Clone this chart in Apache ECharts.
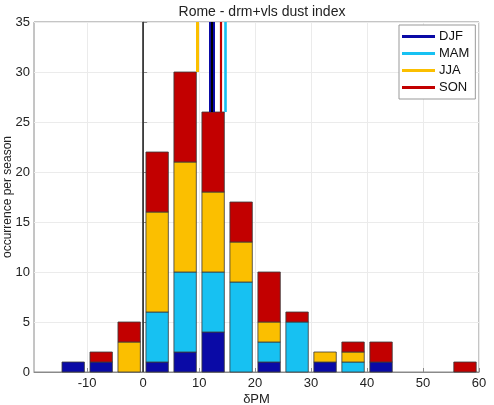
<!DOCTYPE html>
<html>
<head>
<meta charset="utf-8">
<script src="https://cdn.jsdelivr.net/npm/echarts@6/dist/echarts.min.js"></script>
<style>
  html, body { margin: 0; padding: 0; background: #fff; }
  #chart { width: 494px; height: 405px; }
</style>
</head>
<body>
<div id="chart"></div>
<script>
// bin centres (dPM), bin width 5
const binCenters = [-12.5, -7.5, -2.5, 2.5, 7.5, 12.5, 17.5, 22.5, 27.5, 32.5, 37.5, 42.5, 47.5, 52.5, 57.5]
const djf = [1, 1, 0, 1, 2, 4, 0, 1, 0, 1, 0, 1, 0, 0, 0]
const mam = [0, 0, 0, 5, 8, 6, 9, 2, 5, 0, 1, 0, 0, 0, 0]
const jja = [0, 0, 3, 10, 11, 8, 4, 2, 0, 1, 1, 0, 0, 0, 0]
const son = [0, 1, 2, 6, 9, 8, 4, 5, 1, 0, 1, 2, 0, 0, 1]
const seasons = ['DJF', 'MAM', 'JJA', 'SON']
const seasonColors = ['#0a0aa6', '#17c1f2', '#fbbf00', '#c20000']
// seasonal mean dPM, and all-year mean
const seasonMeans = [12.3, 14.6, 9.7, 13.85]
const allMean = 12.2
const xTicks = [-10, 0, 10, 20, 30, 40, 50, 60]
const binWidth = 5

const counts = [djf, mam, jja, son]
const totals = binCenters.map((c, i) => djf[i] + mam[i] + jja[i] + son[i])
const topAt = m => totals[binCenters.findIndex(c => m >= c - binWidth / 2 && m < c + binWidth / 2)]

const chart = echarts.init(document.getElementById('chart'))
const font = 'Liberation Sans, Arial, sans-serif'

function renderBar (params, api) {
  const x = api.value(0)
  const p0 = api.coord([x, api.value(1)])
  const p1 = api.coord([x, api.value(2)])
  const w = api.size([binWidth * 0.8, 0])[0]
  return {
    type: 'rect',
    shape: { x: p0[0] - w / 2, y: p1[1], width: w, height: p0[1] - p1[1] },
    style: api.style({ stroke: '#3a3a3a', lineWidth: 0.8 })
  }
}

const base = binCenters.map(() => 0)
const series = seasons.map((name, k) => {
  const data = []
  binCenters.forEach((c, i) => {
    const n = counts[k][i]
    if (n > 0) data.push([c, base[i], base[i] + n])
    base[i] += n
  })
  return {
    name: name,
    type: 'custom',
    renderItem: renderBar,
    encode: { x: 0, y: [1, 2] },
    itemStyle: { color: seasonColors[k] },
    data: data
  }
})

const meanLine = (m, color, width) => [
  { coord: [m, topAt(m)], lineStyle: { color: color, width: width, type: 'solid' } },
  { coord: [m, 35] }
]

// zero line and the mean lines
series.push({
  name: 'ref',
  type: 'line',
  data: [],
  markLine: {
    silent: true,
    symbol: 'none',
    label: { show: false },
    data: [
      [
        { coord: [0, 0], lineStyle: { color: '#222', width: 1.5, type: 'solid' } },
        { coord: [0, 35] }
      ],
      meanLine(seasonMeans[0], seasonColors[0], 6),
      meanLine(allMean, '#000', 2),
      meanLine(seasonMeans[1], seasonColors[1], 2.6),
      meanLine(seasonMeans[2], seasonColors[2], 3),
      meanLine(seasonMeans[3], seasonColors[3], 2.2)
    ]
  }
})

const option = {
  animation: false,
  backgroundColor: '#fff',
  title: {
    text: 'Rome - drm+vls dust index',
    left: 257,
    textAlign: 'center',
    top: 0,
    textStyle: { fontSize: 14, fontWeight: 'normal', color: '#222', fontFamily: font }
  },
  legend: {
    data: seasons,
    orient: 'vertical',
    left: 399,
    top: 25,
    padding: [5, 6, 5, 3],
    itemWidth: 33,
    itemHeight: 3,
    itemGap: 4,
    icon: 'rect',
    backgroundColor: '#fff',
    borderColor: '#999',
    borderWidth: 1,
    borderRadius: 0,
    itemStyle: { borderWidth: 0 },
    textStyle: { fontSize: 13, color: '#111', fontFamily: font, padding: [0, 0, 0, -1] }
  },
  grid: {
    left: 34,
    right: 15,
    top: 22,
    bottom: 33,
    outerBoundsMode: 'none',
    containLabel: false,
    show: true,
    borderColor: '#8a8a8a',
    borderWidth: 1
  },
  xAxis: {
    type: 'value',
    min: -19.5,
    max: 60,
    name: 'δPM',
    nameLocation: 'middle',
    nameGap: 21,
    nameMoveOverlap: false,
    nameTextStyle: { fontSize: 13, color: '#222', fontFamily: font },
    axisLine: { show: true, onZero: false, lineStyle: { color: '#8a8a8a' } },
    axisTick: { show: true, inside: true, length: 4, customValues: xTicks, lineStyle: { color: '#8a8a8a' } },
    axisLabel: { customValues: xTicks, fontSize: 13, color: '#222', fontFamily: font, margin: 5 },
    splitLine: { show: true, lineStyle: { color: '#ebebeb' } }
  },
  yAxis: {
    type: 'value',
    min: 0,
    max: 35,
    interval: 5,
    name: 'occurrence per season',
    nameLocation: 'middle',
    nameGap: 20,
    nameMoveOverlap: false,
    nameTextStyle: { fontSize: 12, color: '#222', fontFamily: font },
    axisLine: { show: true, lineStyle: { color: '#8a8a8a' } },
    axisTick: { show: true, inside: true, length: 4, lineStyle: { color: '#8a8a8a' } },
    axisLabel: { fontSize: 13, color: '#222', fontFamily: font, margin: 4 },
    splitLine: { show: true, lineStyle: { color: '#ebebeb' } }
  },
  series: series
}

chart.setOption(option)
</script>
</body>
</html>
